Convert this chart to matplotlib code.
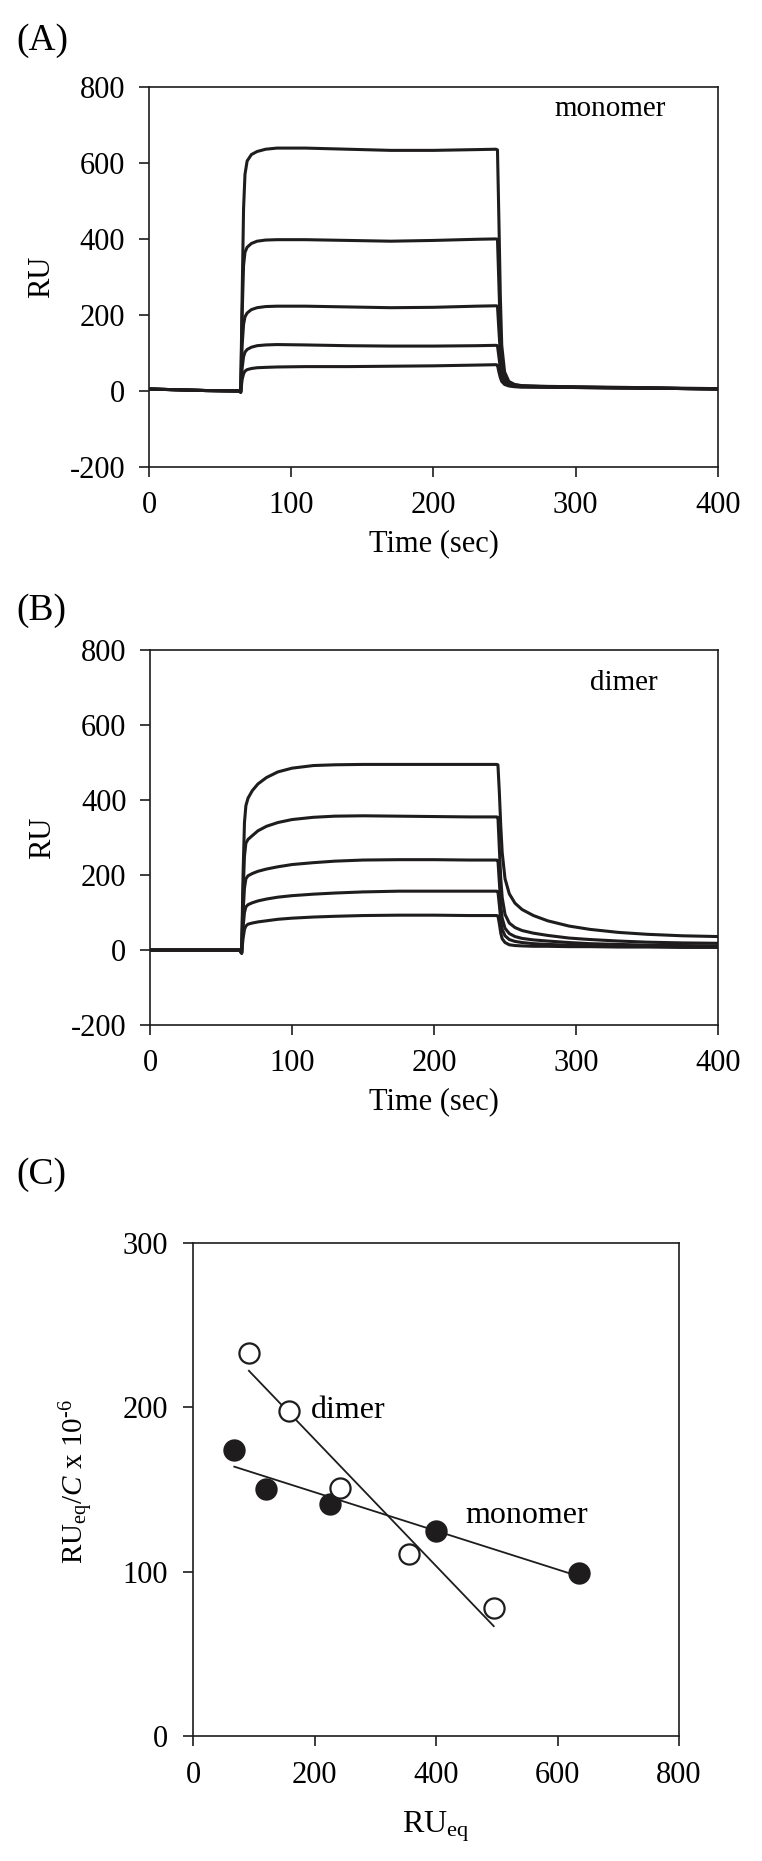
import numpy as np
import matplotlib
matplotlib.use("Agg")
from matplotlib import pyplot as plt

plt.rcParams["font.family"] = "Liberation Serif"
plt.rcParams["mathtext.fontset"] = "custom"
plt.rcParams["mathtext.rm"] = "Liberation Serif"
plt.rcParams["mathtext.it"] = "Liberation Serif:italic"
plt.rcParams["axes.unicode_minus"] = False

INK = "#1e1c1d"

# (A) monomer sensorgrams
t_mono = [0, 20, 40, 60, 63, 64.5, 65.5, 66.5, 67.5, 69, 72, 76, 82, 90, 110, 140,
          170, 200, 230, 244, 245, 246, 247, 248, 250, 253, 257, 262, 280, 320, 360, 400]
base_mono = [5, 3, 1, 0, 0, -3]
mono_curves = [
    base_mono + [250, 480, 570, 605, 622, 630, 636, 639, 639, 636, 633, 633, 635, 636,
                 634, 450, 250, 120, 50, 25, 17, 14, 12, 10, 8, 6],
    base_mono + [200, 330, 365, 378, 388, 394, 397, 398, 398, 396, 394, 396, 399, 400,
                 399, 280, 160, 80, 40, 22, 16, 13, 11, 9, 7, 5],
    base_mono + [120, 175, 195, 205, 214, 219, 222, 223, 223, 221, 219, 220, 223, 224,
                 223, 160, 100, 55, 30, 18, 14, 12, 10, 9, 7, 5],
    base_mono + [60, 90, 102, 109, 115, 119, 121, 122, 121, 119, 118, 118, 119, 120,
                 119, 90, 60, 38, 22, 15, 12, 11, 10, 8, 7, 5],
    base_mono + [30, 45, 52, 56, 59, 61, 62, 63, 64, 64, 65, 66, 68, 69,
                 68, 50, 35, 25, 17, 13, 11, 10, 10, 8, 7, 5],
]

# (B) dimer sensorgrams
t_dim = [0, 20, 40, 60, 63, 64.5, 65.5, 66.5, 67.5, 69, 72, 76, 82, 90, 100, 115, 130,
         150, 175, 200, 225, 244, 245, 246, 247, 248, 250, 253, 257, 262, 270, 280, 295,
         310, 330, 350, 375, 400]
base_dim = [0, 0, 0, 0, 0, -8]
dim_curves = [
    base_dim + [200, 340, 385, 405, 425, 443, 460, 475, 485, 492, 494, 495, 495, 495,
                495, 495, 494, 420, 330, 260, 190, 150, 125, 108, 92, 78, 64, 55, 47,
                42, 38, 36],
    base_dim + [150, 250, 285, 295, 305, 318, 330, 340, 348, 354, 357, 358, 357, 356,
                355, 355, 354, 270, 190, 140, 95, 72, 60, 52, 45, 39, 32, 28, 24,
                21, 19, 18],
    base_dim + [100, 165, 190, 198, 204, 210, 216, 222, 228, 233, 237, 240, 241, 241,
                240, 240, 239, 180, 120, 85, 58, 44, 36, 31, 27, 24, 20, 17, 15,
                13, 12, 11],
    base_dim + [60, 100, 115, 121, 126, 131, 136, 141, 145, 149, 152, 155, 157, 157,
                157, 157, 156, 120, 80, 55, 38, 28, 23, 20, 17, 15, 13, 12, 11,
                10, 9, 9],
    base_dim + [30, 55, 64, 69, 72, 75, 78, 82, 85, 88, 90, 92, 93, 93,
                92, 92, 91, 70, 45, 30, 20, 14, 12, 11, 10, 10, 9, 9, 8,
                8, 7, 7],
]

# (C) Scatchard plot
ru_mono = [68, 120, 225, 400, 635]
ratio_mono = [174, 150, 141, 125, 99]
ru_dim = [92, 158, 242, 355, 495]
ratio_dim = [233, 198, 151, 111, 78]

fig = plt.figure(figsize=(7.62, 18.61), dpi=100)


def style_axes(ax, pad=10):
    for s in ax.spines.values():
        s.set_linewidth(1.2)
        s.set_color(INK)
    ax.tick_params(direction="out", length=7, width=1.2, color=INK,
                   labelsize=22, pad=pad, top=False, right=False)


def sensorgram(ax, t, curves, label, label_xy):
    for y in curves:
        ax.plot(t, y, color=INK, lw=2.2, solid_joinstyle="round")
    ax.set_xlim(0, 400)
    ax.set_ylim(-200, 800)
    ax.set_xticks([0, 100, 200, 300, 400])
    ax.set_yticks([-200, 0, 200, 400, 600, 800])
    ax.set_xlabel("Time (sec)", fontsize=22, labelpad=7)
    ax.set_ylabel("RU", fontsize=22)
    ax.yaxis.set_label_coords(-0.163, 0.5)
    ax.text(label_xy[0], label_xy[1], label, fontsize=21, ha="left", va="center")
    style_axes(ax)


ax1 = fig.add_axes([0.1955, 0.7491, 0.7467, 0.2042])
sensorgram(ax1, t_mono, mono_curves, "monomer", (285, 742))

ax2 = fig.add_axes([0.1969, 0.4492, 0.7454, 0.2015])
sensorgram(ax2, t_dim, dim_curves, "dimer", (310, 713))

ax3 = fig.add_axes([0.2533, 0.0672, 0.6378, 0.2649])
for x, y, face in [(ru_mono, ratio_mono, INK), (ru_dim, ratio_dim, "white")]:
    k, b = np.polyfit(x, y, 1)
    xs = np.array([min(x), max(x)])
    ax3.plot(xs, k * xs + b, color=INK, lw=1.3, zorder=2)
    ax3.plot(x, y, "o", ms=14.5, mfc=face, mec=INK, mew=1.6, zorder=3)
ax3.set_xlim(0, 800)
ax3.set_ylim(0, 300)
ax3.set_xticks([0, 200, 400, 600, 800])
ax3.set_yticks([0, 100, 200, 300])
ax3.set_xlabel(r"RU$_{\rm eq}$", fontsize=23, labelpad=14)
ax3.set_ylabel("RU$_{\\rm eq}$/$\\it{C}$ x 10$^{\\rm \u2010 6}$", fontsize=21)
ax3.yaxis.set_label_coords(-0.20, 0.517)
ax3.text(194, 198, "dimer", fontsize=23, va="center")
ax3.text(448, 134, "monomer", fontsize=23, va="center")
style_axes(ax3, pad=11)

for label, y in [("(A)", 0.978), ("(B)", 0.672), ("(C)", 0.369)]:
    fig.text(0.022, y, label, fontsize=27, va="center", ha="left")

fig.savefig("out.png", dpi=100)
